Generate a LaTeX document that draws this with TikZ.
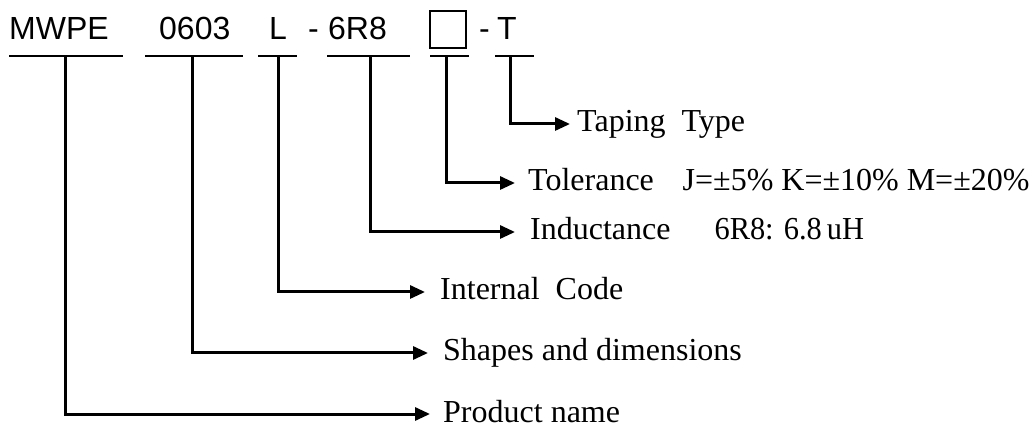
\documentclass[tikz,border=0pt]{standalone}
\usepackage{fontspec}
\setmainfont{Liberation Serif}
\newfontfamily\arialfont{Liberation Sans}
\usetikzlibrary{arrows.meta}
\begin{document}
\begin{tikzpicture}[x=1pt,y=-1pt,
  code/.style={anchor=base west,inner sep=0pt,font=\arialfont\fontsize{32}{38}\selectfont},
  lab/.style={anchor=west,inner sep=0pt,text height=22pt,text depth=6pt,font=\fontsize{32}{38}\selectfont},
  uline/.style={line width=2pt},
  conn/.style={line width=3pt,-{Triangle[length=15pt,width=13pt]},line join=miter}]
\useasboundingbox (0,0) rectangle (1034,430);
% code string
\node[code] (c1) at (9,39.5) {MWPE};
\node[code] (c2) at (159,39.5) {0603};
\node[code] (c3) at (269,39.5) {L};
\node[code] (h1) at (308,39.5) {-};
\node[code] (c4) at (328,39.5) {6R8};
\node[draw,line width=1.8pt,minimum width=36pt,minimum height=37pt,inner sep=0pt] (c5) at (448,29.5) {};
\node[code] (h2) at (479,39.5) {-};
\node[code] (c6) at (497,39.5) {T};
% underlines
\draw[uline] (9,55.6) -- (123,55.6);
\draw[uline] (145,55.6) -- (243,55.6);
\draw[uline] (258,55.6) -- (297,55.6);
\draw[uline] (327,55.6) -- (410,55.6);
\draw[uline] (430,55.6) -- (469,55.6);
\draw[uline] (495,55.6) -- (534,55.6);
% stem tops
\coordinate (t1) at (65,55.6);
\coordinate (t2) at (192,55.6);
\coordinate (t3) at (278,55.6);
\coordinate (t4) at (370,55.6);
\coordinate (t5) at (446,55.6);
\coordinate (t6) at (510,55.6);
% labels
\node[lab] (l6) at (577,124) {Taping\ \ Type};
\node[lab] (l5) at (528,183) {Tolerance\hspace{0.9em}J=±5\% K=±10\% M=±20\%};
\node[lab] (l4) at (530,232) {Inductance\hspace{44pt}\scalebox{0.95}[1]{6R8: 6.8\,uH}};
\node[lab] (l3) at (440,292) {Internal\ \ Code};
\node[lab] (l2) at (443,353) {Shapes and dimensions};
\node[lab] (l1) at (443,414) {Product name};
% connectors
\draw[conn] (t6) |- ([xshift=-7pt]l6.west);
\draw[conn] (t5) |- ([xshift=-13pt]l5.west);
\draw[conn] (t4) |- ([xshift=-15pt]l4.west);
\draw[conn] (t3) |- ([xshift=-15pt]l3.west);
\draw[conn] (t2) |- ([xshift=-15pt]l2.west);
\draw[conn] (t1) |- ([xshift=-13pt]l1.west);
\end{tikzpicture}
\end{document}
